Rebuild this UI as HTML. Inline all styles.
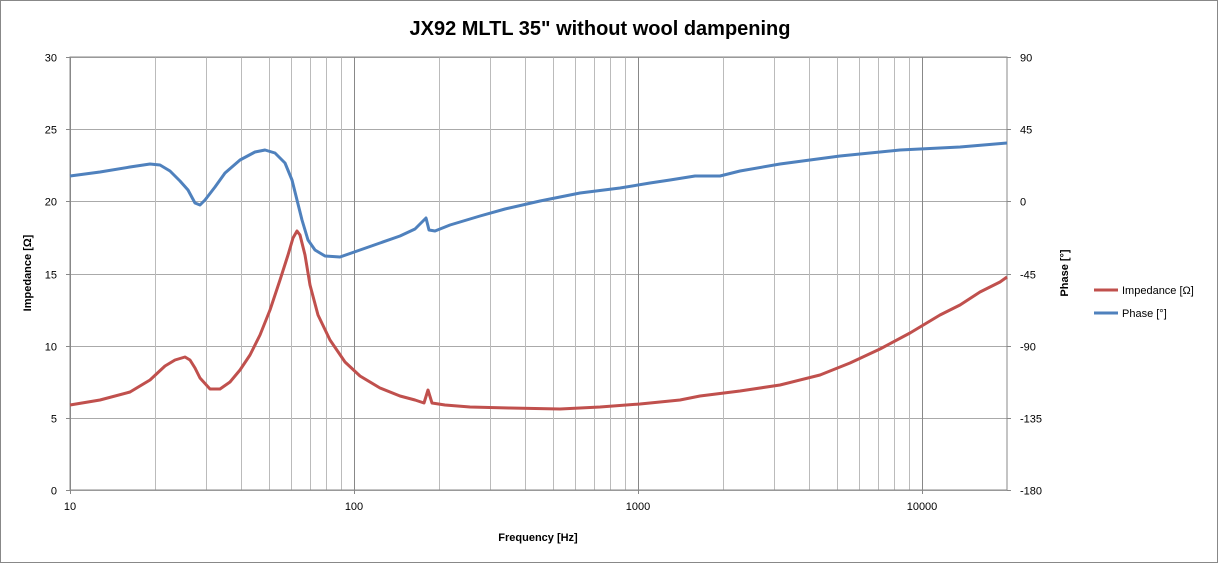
<!DOCTYPE html>
<html><head><meta charset="utf-8"><style>
html,body{margin:0;padding:0;background:#fff;}
svg{display:block;font-family:"Liberation Sans",sans-serif;}
</style></head><body>
<svg id="s" width="1218" height="563" viewBox="0 0 1218 563" xmlns="http://www.w3.org/2000/svg">
<rect x="0.5" y="0.5" width="1217" height="562" fill="#fff" stroke="#888"/>
<text x="600" y="35" text-anchor="middle" font-size="20" font-weight="bold" fill="#000">JX92 MLTL 35" without wool dampening</text>
<g id="grid"></g>
<rect x="70" y="57" width="937" height="433" fill="none" stroke="#888"/>
<g id="labels" font-size="11" fill="#000"></g>
<text x="538" y="541" text-anchor="middle" font-size="11" font-weight="bold">Frequency [Hz]</text>
<text transform="translate(31,273) rotate(-90)" text-anchor="middle" font-size="11" font-weight="bold">Impedance [Ω]</text>
<text transform="translate(1068,273) rotate(-90)" text-anchor="middle" font-size="11" font-weight="bold">Phase [°]</text>
<polyline fill="none" stroke="#c0504d" stroke-width="3" stroke-linejoin="round" points="70,405 100,400 130,392 150,380 165,366 175,360 185,357 190,360 195,368 200,378 210,389 220,389 230,382 240,370 250,355 260,335 270,310 280,280 288,255 293,238 297,231 300,235 305,255 310,285 318,315 330,340 345,362 360,376 380,388 400,396 415,400 424,403 428,390 432,403 445,405 470,407 510,408 560,409 600,407 640,404 680,400 700,396 740,391 780,385 820,375 850,363 880,349 910,333 940,315 960,305 980,292 1000,282 1007,277"/>
<polyline fill="none" stroke="#4f81bd" stroke-width="3" stroke-linejoin="round" points="70,176 100,172 130,167 150,164 160,165 170,171 180,181 188,190 195,203 200,205 205,200 215,187 225,173 240,160 255,152 265,150 275,153 285,163 292,180 297,200 302,220 308,240 315,250 325,256 340,257 360,250 380,243 400,236 415,229 420,224 426,218 429,230 435,231 450,225 480,216 505,209 540,201 580,193 620,188 650,183 670,180 695,176 720,176 740,171 780,164 840,156 900,150 960,147 1007,143"/>
<line x1="1094" y1="290" x2="1118" y2="290" stroke="#c0504d" stroke-width="3"/>
<text x="1122" y="294" font-size="11">Impedance [Ω]</text>
<line x1="1094" y1="313" x2="1118" y2="313" stroke="#4f81bd" stroke-width="3"/>
<text x="1122" y="317" font-size="11">Phase [°]</text>
</svg>
<script>
var ns="http://www.w3.org/2000/svg",g=document.getElementById("grid"),L=document.getElementById("labels");
function ln(x1,y1,x2,y2,c){var l=document.createElementNS(ns,"line");l.setAttribute("x1",x1);l.setAttribute("y1",y1);l.setAttribute("x2",x2);l.setAttribute("y2",y2);l.setAttribute("stroke",c);l.setAttribute("stroke-width",1);g.appendChild(l);}
function tx(x,y,t,a){var e=document.createElementNS(ns,"text");e.setAttribute("x",x);e.setAttribute("y",y);e.setAttribute("text-anchor",a);e.textContent=t;L.appendChild(e);}
for(var i=0;i<=6;i++){var y=57+i*433/6;y=Math.round(y)+0.5;ln(70,y,1007,y,"#aaa");tx(57,y+4,String(30-5*i),"end");tx(1020,y+4,String(90-45*i),"start");ln(66,y,70,y,"#888");ln(1007,y,1011,y,"#888");}
var D=[70,354,638,922];
for(var d=0;d<4;d++){for(var k=1;k<=9;k++){var x=D[d]+284*Math.log10(k);if(x>1007)break;x=Math.round(x)+0.5;ln(x,57,x,490,k==1?"#888":"#bbb");}}
var lab=["10","100","1000","10000"];for(var d=0;d<4;d++){tx(D[d],510,lab[d],"middle");ln(D[d]+0.5,490,D[d]+0.5,494,"#888");}
</script>
</body></html>
